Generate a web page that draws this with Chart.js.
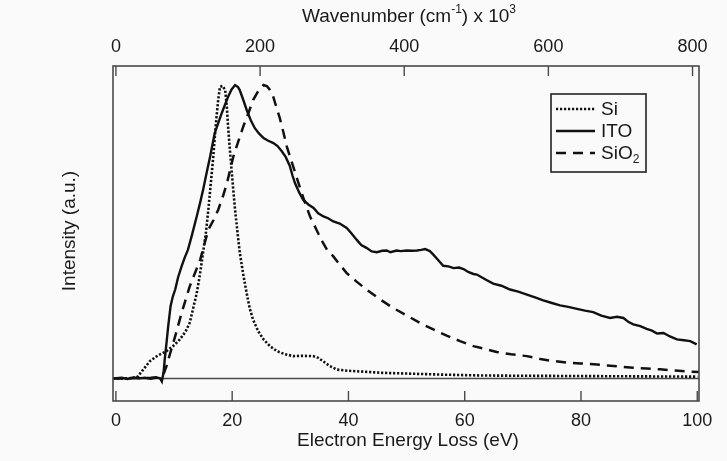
<!DOCTYPE html>
<html>
<head>
<meta charset="utf-8">
<script src="https://cdn.jsdelivr.net/npm/chart.js@4.4.1/dist/chart.umd.min.js"></script>
<style>
  html, body { margin: 0; padding: 0; background: #fafafa; }
  #wrap { width: 727px; height: 461px; position: relative; }
</style>
</head>
<body>
<div id="wrap"><canvas id="c" width="727" height="461"></canvas></div>
<script>
// ---- data ----
const X_TICKS = [0, 20, 40, 60, 80, 100];           // Electron Energy Loss (eV)
const X2_TICKS = [0, 200, 400, 600, 800];           // Wavenumber (cm^-1) x 10^3
const EV_TO_KCM = 8.0655;                            // 1 eV = 8.0655 x 10^3 cm^-1
const X_MIN = -0.5, X_MAX = 100.3;
const Y_MIN = -7.7, Y_MAX = 106.5;

const siE = [-0.5, 2, 3.6, 4.5, 5.85, 7.2, 8.7, 10, 11.0, 12.0, 12.7, 13.3, 13.9, 14.5, 15.0, 15.5, 15.9, 16.3, 16.7, 17.0, 17.3, 17.6, 17.9, 18.35, 18.8, 19.1, 19.3, 19.6, 19.9, 20.2, 20.5, 20.9, 21.3, 21.9, 22.5, 23.0, 23.6, 24.5, 25.4, 26.5, 27.7, 29, 30.5, 32, 33.9, 34.8, 35.6, 36.8, 38, 40, 42.5, 46, 51, 56, 62.6, 70, 80, 90, 100];
const siI = [0, 0, 0.3, 2.5, 5.9, 7.8, 9.3, 11.3, 13.3, 16, 19, 24, 29, 36, 43, 50, 57.5, 66, 74.5, 82, 89, 95, 99.4, 99.7, 98.3, 92, 85.8, 78, 71, 64, 57.5, 50, 43, 35.5, 29, 24, 20, 16, 13.3, 11, 9.3, 8.3, 7.6, 7.7, 7.6, 7, 5.9, 4.2, 3, 2.6, 2.3, 1.9, 1.6, 1.3, 1.0, 0.9, 0.8, 0.7, 0.6];

const itoE = [-0.5, 1, 2, 3, 4, 5, 6, 7, 7.6, 7.9, 8.2, 8.4, 8.7, 9.0, 9.4, 9.8, 10.2, 10.7, 11.3, 11.8, 12.4, 13.1, 13.9, 14.5, 15.0, 15.6, 16.2, 17.0, 17.6, 18.2, 18.8, 19.3, 19.9, 20.5, 21.0, 21.3, 21.9, 22.5, 23.2, 23.9, 24.6, 25.4, 26.2, 27.1, 27.8, 28.5, 29.2, 29.9, 30.4, 30.8, 31.5, 32.2, 33.1, 34.0, 34.8, 35.7, 36.5, 37.4, 38.5, 39.7, 40.5, 41.4, 42.2, 43.1, 44.0, 44.9, 45.8, 46.6, 47.2, 48.3, 49.0, 50.0, 51.0, 51.8, 52.5, 53.2, 54.0, 54.6, 55.5, 56.3, 57.2, 58.1, 59.0, 59.8, 60.6, 61.5, 62.1, 63.5, 64.9, 66.3, 67.8, 69.2, 70.7, 72.1, 73.5, 75.0, 76.4, 77.8, 79.3, 80.7, 82.1, 83.5, 85.0, 86.2, 87.3, 88.2, 89.0, 90.2, 91.3, 92.2, 93.1, 94.2, 95.3, 96.5, 97.7, 98.8, 99.9];
const itoI = [0, 0.2, -0.2, 0.3, 0, 0.2, -0.1, 0.3, 0, -1.0, 2, 6.5, 12, 17.8, 24.6, 28, 30.3, 34.5, 38.2, 41, 43.9, 49, 55.2, 60, 64.3, 70, 75.6, 83.6, 87, 90.4, 93.5, 96, 98.5, 100, 99.3, 98.3, 95, 91.5, 88, 85.3, 83.5, 81.9, 81, 80.2, 79.2, 77.5, 75.5, 72.5, 69, 66.6, 63.5, 60.9, 59.3, 58.1, 56.3, 55.2, 54.6, 53.5, 52.8, 51.3, 49.5, 47.3, 45.5, 44.5, 43.3, 43, 43.5, 43.6, 43, 43.6, 43.4, 43.6, 43.5, 43.6, 43.8, 44.1, 43.4, 42.2, 40.2, 38.4, 38.2, 37.6, 37.8, 37.3, 36.3, 35.6, 35.4, 33.8, 32.3, 31.6, 30.3, 29.6, 28.6, 27.6, 26.6, 25.7, 24.9, 24.4, 23.7, 23.1, 22.6, 21.4, 20.6, 21.0, 20.6, 19.2, 18.4, 17.8, 16.9, 16.3, 15.3, 15.5, 14.3, 13.3, 13.0, 12.7, 11.6];

const sio2E = [-0.5, 2, 4, 6, 7.5, 8.3, 8.7, 9.4, 10.2, 11.3, 12.7, 14.5, 15.9, 16.8, 17.6, 18.4, 19.1, 20.2, 21.0, 21.9, 22.8, 23.6, 24.5, 25.4, 26.0, 26.5, 27.0, 27.4, 28.2, 28.8, 29.4, 30.5, 31.5, 32.5, 33.4, 34.5, 35.4, 36.3, 37.4, 38.5, 39.7, 41.4, 43.1, 45.4, 47.7, 50.0, 52.3, 54.6, 56.9, 59.2, 61.5, 63.2, 65.5, 68.0, 70.7, 73.0, 75.3, 77.6, 79.9, 82.2, 84.5, 86.8, 89.0, 91.3, 93.6, 96.2, 98.8, 100.3];
const sio2I = [0, 0, 0.1, 0.2, 0.5, 2, 4.2, 9, 14.4, 22.3, 31.4, 40.5, 50.7, 54, 57.5, 62, 66.6, 75.6, 80.5, 85.8, 90.5, 94.9, 98, 100, 99.6, 98.3, 96.5, 93.8, 88.7, 84, 79, 72.2, 66, 60, 55.2, 50.7, 47, 43.9, 41.6, 38.8, 35.9, 33, 30.3, 27, 24, 21.5, 18.9, 16.7, 14.6, 12.7, 11, 10.2, 9, 8.2, 7.6, 6.6, 5.9, 5.4, 5.1, 4.8, 4.4, 4.0, 3.6, 3.4, 3.1, 2.7, 2.3, 2.2];

const SERIES_NAMES = ['Si', 'ITO', 'SiO'];

// ---- helpers ----
const pts = (xs, ys) => xs.map((x, i) => ({ x: x, y: ys[i] }));
const FONT = '"Liberation Sans", Arial, Helvetica, sans-serif';
const INK = '#111';
const FRAME = '#4a4a4a';

const dashes = [[2.2, 1.8], [], [10, 7]];

const decor = {
  id: 'decor',
  beforeDraw(chart) {
    const ctx = chart.ctx;
    ctx.save();
    ctx.fillStyle = '#fafafa';
    ctx.fillRect(0, 0, chart.width, chart.height);
    ctx.restore();
  },
  beforeDatasetsDraw(chart) {
    const { ctx, chartArea: a, scales } = chart;
    const y0 = scales.y.getPixelForValue(0);
    ctx.save();
    ctx.strokeStyle = FRAME;
    ctx.lineWidth = 1.5;
    ctx.beginPath();
    ctx.moveTo(a.left, y0);
    ctx.lineTo(a.right, y0);
    ctx.stroke();
    ctx.restore();
  },
  afterDraw(chart) {
    const { ctx, chartArea: a, scales } = chart;
    ctx.save();
    // frame
    ctx.strokeStyle = FRAME;
    ctx.lineWidth = 1.6;
    ctx.strokeRect(a.left, a.top, a.right - a.left, a.bottom - a.top);
    // inward ticks
    ctx.lineWidth = 1.4;
    ctx.beginPath();
    X_TICKS.forEach(v => {
      const px = scales.x.getPixelForValue(v);
      ctx.moveTo(px, a.bottom);
      ctx.lineTo(px, a.bottom - 10);
    });
    X2_TICKS.forEach(v => {
      const px = scales.x2.getPixelForValue(v);
      ctx.moveTo(px, a.top);
      ctx.lineTo(px, a.top + 10);
    });
    ctx.stroke();

    // titles
    ctx.fillStyle = '#1a1a1a';
    ctx.textBaseline = 'middle';
    const big = '19px ' + FONT, small = '12px ' + FONT;
    // bottom title
    ctx.font = big;
    ctx.textAlign = 'center';
    ctx.fillText('Electron Energy Loss (eV)', (a.left + a.right) / 2 + 2, 441);
    // y title
    ctx.save();
    ctx.translate(70, 231);
    ctx.rotate(-Math.PI / 2);
    ctx.fillText('Intensity (a.u.)', 0, 0);
    ctx.restore();
    // top title with superscripts
    const parts = [['Wavenumber (cm', big, 0], ['-1', small, -7], [') x 10', big, 0], ['3', small, -7]];
    let total = 0;
    parts.forEach(p => { ctx.font = p[1]; total += ctx.measureText(p[0]).width; });
    let tx = (a.left + a.right) / 2 + 3 - total / 2;
    ctx.textAlign = 'left';
    parts.forEach(p => {
      ctx.font = p[1];
      ctx.fillText(p[0], tx, 17 + p[2]);
      tx += ctx.measureText(p[0]).width;
    });

    // legend
    const bx = 551, by = 94, bw = 95, bh = 78;
    ctx.strokeStyle = '#222';
    ctx.lineWidth = 1.6;
    ctx.strokeRect(bx, by, bw, bh);
    const rows = [109, 131, 153];
    chart.data.datasets.forEach((ds, i) => {
      ctx.save();
      ctx.strokeStyle = INK;
      ctx.lineWidth = ds.borderWidth;
      ctx.setLineDash(ds.borderDash || []);
      ctx.beginPath();
      ctx.moveTo(556, rows[i]);
      ctx.lineTo(595, rows[i]);
      ctx.stroke();
      ctx.restore();
      ctx.font = big;
      ctx.fillStyle = '#1a1a1a';
      ctx.fillText(SERIES_NAMES[i], 601, rows[i] + 1);
      if (i === 2) {
        const w = ctx.measureText(SERIES_NAMES[i]).width;
        ctx.font = small;
        ctx.fillText('2', 601 + w, rows[i] + 7);
      }
    });
    ctx.restore();
  }
};

const mkDs = (label, xs, ys, i, w) => ({
  label: label,
  data: pts(xs, ys),
  borderColor: INK,
  borderWidth: w,
  borderDash: dashes[i],
  pointRadius: 0,
  tension: 0,
  fill: false
});

new Chart(document.getElementById('c'), {
  type: 'line',
  data: {
    datasets: [
      mkDs('Si', siE, siI, 0, 2.6),
      mkDs('ITO', itoE, itoI, 1, 2.4),
      mkDs('SiO2', sio2E, sio2I, 2, 2.5)
    ]
  },
  options: {
    responsive: false,
    animation: false,
    devicePixelRatio: 1,
    layout: { padding: { top: 0, right: 28, bottom: 0, left: 0 } },
    plugins: { legend: { display: false }, tooltip: { enabled: false }, title: { display: false } },
    scales: {
      x: {
        type: 'linear', position: 'bottom', min: X_MIN, max: X_MAX,
        afterBuildTicks: s => { s.ticks = X_TICKS.map(v => ({ value: v })); },
        afterFit: s => { s.height = 60; },
        grid: { display: false, drawTicks: false },
        border: { display: false },
        ticks: { padding: 9, font: { family: FONT, size: 18 }, color: '#1a1a1a', maxRotation: 0, autoSkip: false }
      },
      x2: {
        type: 'linear', position: 'top', min: X_MIN * EV_TO_KCM, max: X_MAX * EV_TO_KCM,
        afterBuildTicks: s => { s.ticks = X2_TICKS.map(v => ({ value: v })); },
        afterFit: s => { s.height = 66; },
        grid: { display: false, drawTicks: false },
        border: { display: false },
        ticks: { padding: 8, font: { family: FONT, size: 18 }, color: '#1a1a1a', maxRotation: 0, autoSkip: false }
      },
      y: {
        type: 'linear', position: 'left', min: Y_MIN, max: Y_MAX,
        afterFit: s => { s.width = 113; },
        grid: { display: false, drawTicks: false },
        border: { display: false },
        ticks: { display: false }
      }
    }
  },
  plugins: [decor]
});
</script>
</body>
</html>
